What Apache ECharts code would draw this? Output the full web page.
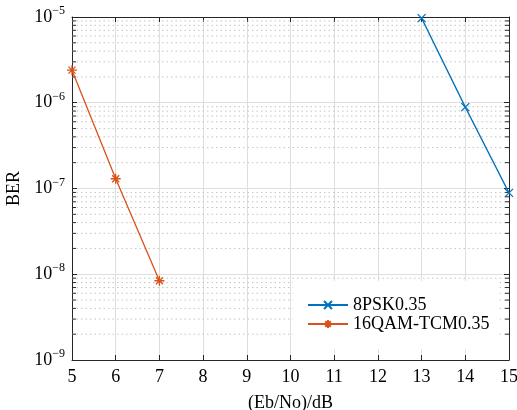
<!DOCTYPE html>
<html>
<head>
<meta charset="utf-8">
<script src="https://cdn.jsdelivr.net/npm/echarts@6/dist/echarts.min.js"></script>
<style>
  html, body { margin: 0; padding: 0; background: #fff; }
  #chart { width: 517px; height: 410px; }
</style>
</head>
<body>
<div id="chart"></div>
<script>
// values
const psk8X = [13, 14, 15];
const psk8Ber = [9.7e-6, 8.9e-7, 8.9e-8];
const qamX = [5, 6, 7];
const qamBer = [2.4e-6, 1.3e-7, 8.4e-9];
const decades = [-9, -8, -7, -6];
const minorSteps = [2, 3, 4, 5, 6, 7, 8, 9];

const font = "Liberation Serif";
const xMin = 5, xMax = 15;
const tickLen = 0.09; // minor tick length in x units (about 4px)

const minorValues = [];
decades.forEach((d) => {
  minorSteps.forEach((m) => minorValues.push(m * Math.pow(10, d)));
});

function pair(xs, ys) {
  return xs.map((x, i) => [x, ys[i]]);
}

// decoration: dotted minor grid and small minor ticks on both y edges
function decoLine(points, style) {
  return {
    type: "line",
    data: points,
    symbol: "none",
    silent: true,
    animation: false,
    lineStyle: style,
    z: 1,
    emphasis: { disabled: true },
    tooltip: { show: false }
  };
}
const decoSeries = [];
minorValues.forEach((v) => {
  decoSeries.push(decoLine([[xMin, v], [xMax, v]], { color: "#c4c4c4", type: [1.5, 3], width: 1 }));
  decoSeries.push(decoLine([[xMin, v], [xMin + tickLen, v]], { color: "#262626", width: 1 }));
  decoSeries.push(decoLine([[xMax - tickLen, v], [xMax, v]], { color: "#262626", width: 1 }));
});

const chart = echarts.init(document.getElementById("chart"));

const axisLine = { show: true, lineStyle: { color: "#262626", width: 1 } };
const tick = { inside: true, length: 5, lineStyle: { color: "#262626" } };

const option = {
  animation: false,
  backgroundColor: "#fff",
  grid: { left: 72, right: 8, top: 17, bottom: 50, outerBoundsMode: "none", containLabel: false },
  xAxis: [
    {
      type: "value",
      min: xMin,
      max: xMax,
      interval: 1,
      name: "(Eb/No)/dB",
      nameLocation: "middle",
      nameGap: 34,
      nameTextStyle: { fontFamily: font, fontSize: 18, color: "#000" },
      axisLine: axisLine,
      axisTick: tick,
      axisLabel: { fontFamily: font, fontSize: 18, color: "#000", margin: 8 },
      splitLine: { show: true, lineStyle: { color: "#dedede", width: 1 } }
    },
    {
      type: "value",
      position: "top",
      min: xMin,
      max: xMax,
      interval: 1,
      axisLine: axisLine,
      axisTick: tick,
      axisLabel: { show: false },
      splitLine: { show: false }
    }
  ],
  yAxis: [
    {
      type: "log",
      logBase: 10,
      min: 1e-9,
      max: 1e-5,
      name: "BER",
      nameLocation: "middle",
      nameGap: 46,
      nameTextStyle: { fontFamily: font, fontSize: 18, color: "#000" },
      axisLine: axisLine,
      axisTick: tick,
      axisLabel: {
        margin: 7,
        formatter: (v) => {
          const e = Math.round(Math.log10(v));
          return "{b|10}{s|" + String(e).replace("-", "−") + "}";
        },
        rich: {
          b: { fontFamily: font, fontSize: 18, color: "#000" },
          s: { fontFamily: font, fontSize: 12, color: "#000", verticalAlign: "top", padding: [0, 0, 12, 0] }
        }
      },
      splitLine: { show: true, lineStyle: { color: "#dedede", width: 1 } }
    },
    {
      type: "log",
      logBase: 10,
      position: "right",
      min: 1e-9,
      max: 1e-5,
      axisLine: axisLine,
      axisTick: tick,
      axisLabel: { show: false },
      splitLine: { show: false }
    }
  ],
  legend: {
    left: 293,
    top: 281,
    orient: "vertical",
    backgroundColor: "#fff",
    borderWidth: 0,
    padding: [15, 10, 16, 14],
    itemGap: 1,
    itemWidth: 40,
    itemHeight: 10,
    textStyle: { fontFamily: font, fontSize: 18, color: "#000" },
    data: ["8PSK0.35", "16QAM-TCM0.35"]
  },
  series: decoSeries.concat([
    {
      name: "8PSK0.35",
      type: "line",
      data: pair(psk8X, psk8Ber),
      symbol: "path://M0,0L10,10M10,0L0,10",
      symbolSize: 8,
      lineStyle: { color: "#0072BD", width: 1.3 },
      itemStyle: { color: "#0072BD", borderColor: "#0072BD", borderWidth: 1.3 },
      z: 5
    },
    {
      name: "16QAM-TCM0.35",
      type: "line",
      data: pair(qamX, qamBer),
      symbol: "path://M5,0L5,10M0,5L10,5M1.5,1.5L8.5,8.5M8.5,1.5L1.5,8.5",
      symbolSize: 10,
      lineStyle: { color: "#D95319", width: 1.3 },
      itemStyle: { color: "#D95319", borderColor: "#D95319", borderWidth: 1.3 },
      z: 5
    }
  ])
};

chart.setOption(option);
</script>
</body>
</html>
